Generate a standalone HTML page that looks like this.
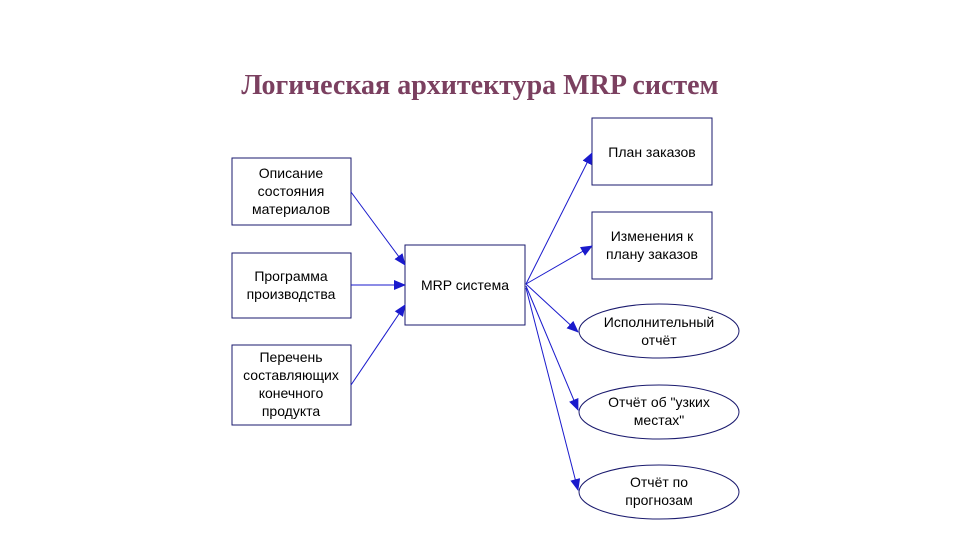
<!DOCTYPE html>
<html><head><meta charset="utf-8"><style>
html,body{margin:0;padding:0;background:#fff;width:960px;height:540px;overflow:hidden}
.t{position:absolute;left:0;width:960px;top:70px;text-align:center;font:bold 28px "Liberation Serif",serif;color:#7b4060}
svg{position:absolute;left:0;top:0}
text{font-family:"Liberation Sans",sans-serif;font-size:14px;fill:#000;text-anchor:middle}
</style></head><body>
<div class="t">Логическая архитектура MRP систем</div>
<svg width="960" height="540">
<defs><marker id="a" markerWidth="12" markerHeight="10" refX="11" refY="5" orient="auto" markerUnits="userSpaceOnUse"><path d="M0,0 L12,5 L0,10z" fill="#1a1acc"/></marker></defs>
<g fill="#fff" stroke="#1a1a6e" stroke-width="1">
<rect x="232" y="158" width="119" height="67"/>
<rect x="232" y="253" width="119" height="65"/>
<rect x="232" y="345" width="119" height="80"/>
<rect x="405" y="245" width="120" height="80"/>
<rect x="592" y="118" width="120" height="67"/>
<rect x="592" y="212" width="120" height="67"/>
<ellipse cx="659" cy="331" rx="80" ry="27"/>
<ellipse cx="659" cy="412" rx="80" ry="27"/>
<ellipse cx="659" cy="492" rx="80" ry="27"/>
</g>
<g stroke="#1a1acc" stroke-width="1" marker-end="url(#a)">
<line x1="351" y1="192" x2="405" y2="265"/>
<line x1="351" y1="285" x2="405" y2="285"/>
<line x1="351" y1="385" x2="405" y2="305"/>
<line x1="526" y1="284" x2="592" y2="153"/>
<line x1="526" y1="284" x2="592" y2="246"/>
<line x1="526" y1="284" x2="578" y2="332"/>
<line x1="526" y1="286" x2="578" y2="410"/>
<line x1="526" y1="288" x2="578" y2="490"/>
</g>
<text x="291" y="178">Описание</text><text x="291" y="196">состояния</text><text x="291" y="214">материалов</text>
<text x="291" y="281">Программа</text><text x="291" y="299">производства</text>
<text x="291" y="362">Перечень</text><text x="291" y="380">составляющих</text><text x="291" y="398">конечного</text><text x="291" y="416">продукта</text>
<text x="465" y="290">MRP система</text>
<text x="652" y="157">План заказов</text>
<text x="652" y="241">Изменения к</text><text x="652" y="259">плану заказов</text>
<text x="659" y="327">Исполнительный</text><text x="659" y="345">отчёт</text>
<text x="659" y="407">Отчёт об "узких</text><text x="659" y="425">местах"</text>
<text x="659" y="487">Отчёт по</text><text x="659" y="505">прогнозам</text>
</svg>
</body></html>
